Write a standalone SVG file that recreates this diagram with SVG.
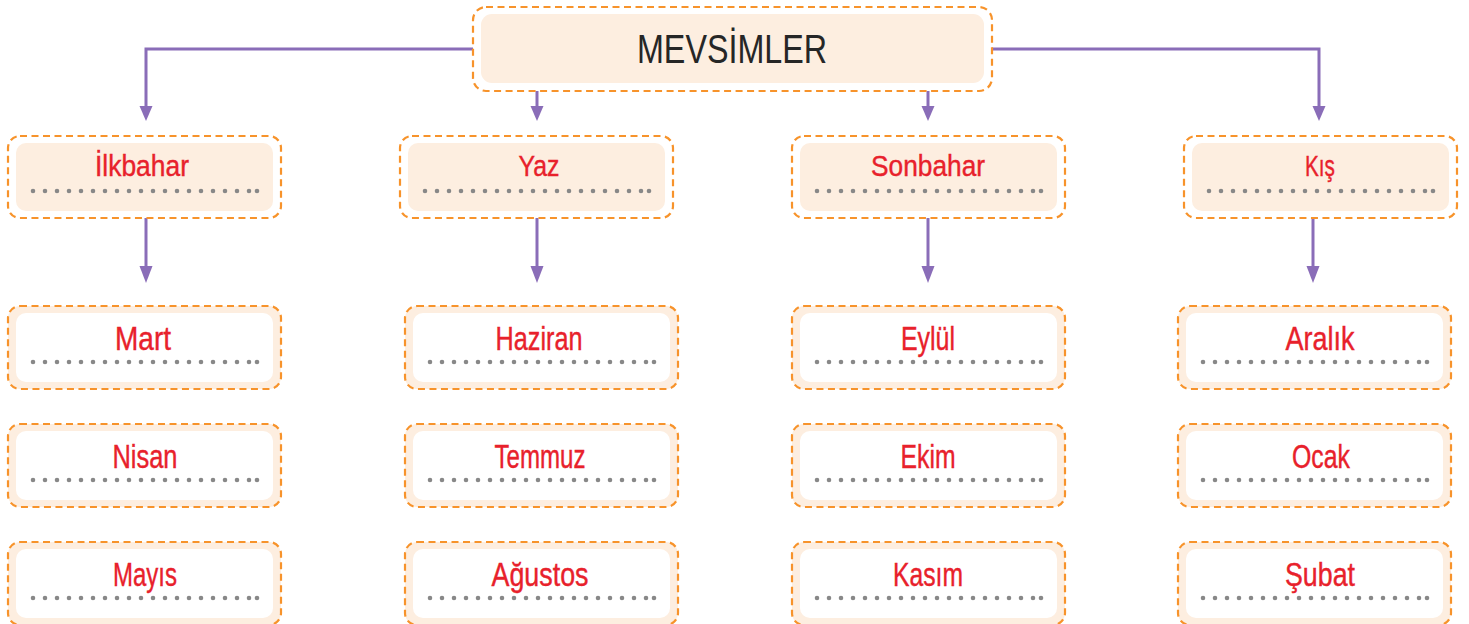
<svg xmlns="http://www.w3.org/2000/svg" width="1469" height="624" viewBox="0 0 1469 624">
<defs>
<style>
.dash{fill:none;stroke:#f7932b;stroke-width:2.2;stroke-dasharray:7 4.5}
.peach{fill:#fdeee0}
.white{fill:#ffffff}
.lbl{font-family:"Liberation Sans",Arial,sans-serif;fill:#e8212b;text-anchor:middle;stroke:#e8212b;stroke-width:0.4}
.s{font-size:30px}
.c{font-size:33px}
.title{font-family:"Liberation Sans",Arial,sans-serif;font-size:40px;fill:#262626;text-anchor:middle}
.dl{stroke:#888888;stroke-width:4.6;stroke-linecap:round;stroke-dasharray:0.01 11.99;fill:none}
.conn{stroke:#8a6db8;stroke-width:3;fill:none}
.ah{fill:#8a6db8}
</style>
<g id="dots"><path class="dl" d="M0 0H216.5"/><circle cx="224" cy="0" r="2.3" fill="#888888"/></g>
<g id="sbox"><rect class="white" x="0" y="0" width="273" height="82" rx="12"/><rect class="dash" x="0" y="0" width="273" height="82" rx="12"/><rect class="peach" x="8" y="7" width="257" height="68" rx="10"/></g>
<g id="cbox"><rect class="peach" x="0" y="0" width="273" height="83" rx="12"/><rect class="dash" x="0" y="0" width="273" height="83" rx="12"/><rect class="white" x="8" y="7" width="257" height="69" rx="10"/></g>
</defs>
<rect width="1469" height="624" fill="#ffffff"/>
<g id="connectors">
<path class="conn" d="M473 49H146V108"/>
<polygon class="ah" points="139.5,106 152.5,106 146,121"/>
<path class="conn" d="M992 49H1319V108"/>
<polygon class="ah" points="1312.5,106 1325.5,106 1319,121"/>
<path class="conn" d="M537 91V108"/>
<polygon class="ah" points="530.5,106 543.5,106 537,121"/>
<path class="conn" d="M928 91V108"/>
<polygon class="ah" points="921.5,106 934.5,106 928,121"/>
<path class="conn" d="M146 218V268"/>
<polygon class="ah" points="139.5,266 152.5,266 146,283"/>
<path class="conn" d="M537 218V268"/>
<polygon class="ah" points="530.5,266 543.5,266 537,283"/>
<path class="conn" d="M928 218V268"/>
<polygon class="ah" points="921.5,266 934.5,266 928,283"/>
<path class="conn" d="M1313 218V268"/>
<polygon class="ah" points="1306.5,266 1319.5,266 1313,283"/>
</g>
<g id="mevsimler">
<rect class="white" x="473" y="7" width="519" height="84" rx="13"/>
<rect class="dash" x="473" y="7" width="519" height="84" rx="13"/>
<rect class="peach" x="481" y="14" width="503" height="69" rx="11"/>
<text class="title" x="732" y="63" textLength="190" lengthAdjust="spacingAndGlyphs">MEVSİMLER</text>
</g>
<g id="ilkbahar"><use href="#sbox" x="8" y="136"/><text class="lbl s" x="142" y="176" textLength="94" lengthAdjust="spacingAndGlyphs">İlkbahar</text><use href="#dots" x="33" y="191"/></g>
<g id="yaz"><use href="#sbox" x="400" y="136"/><text class="lbl s" x="539" y="176" textLength="41" lengthAdjust="spacingAndGlyphs">Yaz</text><use href="#dots" x="425" y="191"/></g>
<g id="sonbahar"><use href="#sbox" x="792" y="136"/><text class="lbl s" x="928" y="176" textLength="114" lengthAdjust="spacingAndGlyphs">Sonbahar</text><use href="#dots" x="817" y="191"/></g>
<g id="kis"><use href="#sbox" x="1184" y="136"/><text class="lbl s" x="1320" y="176" textLength="30" lengthAdjust="spacingAndGlyphs">Kış</text><use href="#dots" x="1209" y="191"/></g>

<g id="mart"><use href="#cbox" x="8" y="306"/><text class="lbl c" x="143" y="350" textLength="56" lengthAdjust="spacingAndGlyphs">Mart</text><use href="#dots" x="33" y="362"/></g>
<g id="nisan"><use href="#cbox" x="8" y="424"/><text class="lbl c" x="145" y="468" textLength="65" lengthAdjust="spacingAndGlyphs">Nisan</text><use href="#dots" x="33" y="480"/></g>
<g id="mayis"><use href="#cbox" x="8" y="542"/><text class="lbl c" x="145" y="586" textLength="64" lengthAdjust="spacingAndGlyphs">Mayıs</text><use href="#dots" x="33" y="598"/></g>

<g id="haziran"><use href="#cbox" x="405" y="306"/><text class="lbl c" x="539" y="350" textLength="87" lengthAdjust="spacingAndGlyphs">Haziran</text><use href="#dots" x="430" y="362"/></g>
<g id="temmuz"><use href="#cbox" x="405" y="424"/><text class="lbl c" x="540" y="468" textLength="91" lengthAdjust="spacingAndGlyphs">Temmuz</text><use href="#dots" x="430" y="480"/></g>
<g id="agustos"><use href="#cbox" x="405" y="542"/><text class="lbl c" x="540" y="586" textLength="97" lengthAdjust="spacingAndGlyphs">Ağustos</text><use href="#dots" x="430" y="598"/></g>

<g id="eylul"><use href="#cbox" x="792" y="306"/><text class="lbl c" x="928" y="350" textLength="54" lengthAdjust="spacingAndGlyphs">Eylül</text><use href="#dots" x="817" y="362"/></g>
<g id="ekim"><use href="#cbox" x="792" y="424"/><text class="lbl c" x="928" y="468" textLength="55" lengthAdjust="spacingAndGlyphs">Ekim</text><use href="#dots" x="817" y="480"/></g>
<g id="kasim"><use href="#cbox" x="792" y="542"/><text class="lbl c" x="928" y="586" textLength="70" lengthAdjust="spacingAndGlyphs">Kasım</text><use href="#dots" x="817" y="598"/></g>

<g id="aralik"><use href="#cbox" x="1178" y="306"/><text class="lbl c" x="1320" y="350" textLength="69" lengthAdjust="spacingAndGlyphs">Aralık</text><use href="#dots" x="1203" y="362"/></g>
<g id="ocak"><use href="#cbox" x="1178" y="424"/><text class="lbl c" x="1321" y="468" textLength="58" lengthAdjust="spacingAndGlyphs">Ocak</text><use href="#dots" x="1203" y="480"/></g>
<g id="subat"><use href="#cbox" x="1178" y="542"/><text class="lbl c" x="1320" y="586" textLength="70" lengthAdjust="spacingAndGlyphs">Şubat</text><use href="#dots" x="1203" y="598"/></g>
</svg>
